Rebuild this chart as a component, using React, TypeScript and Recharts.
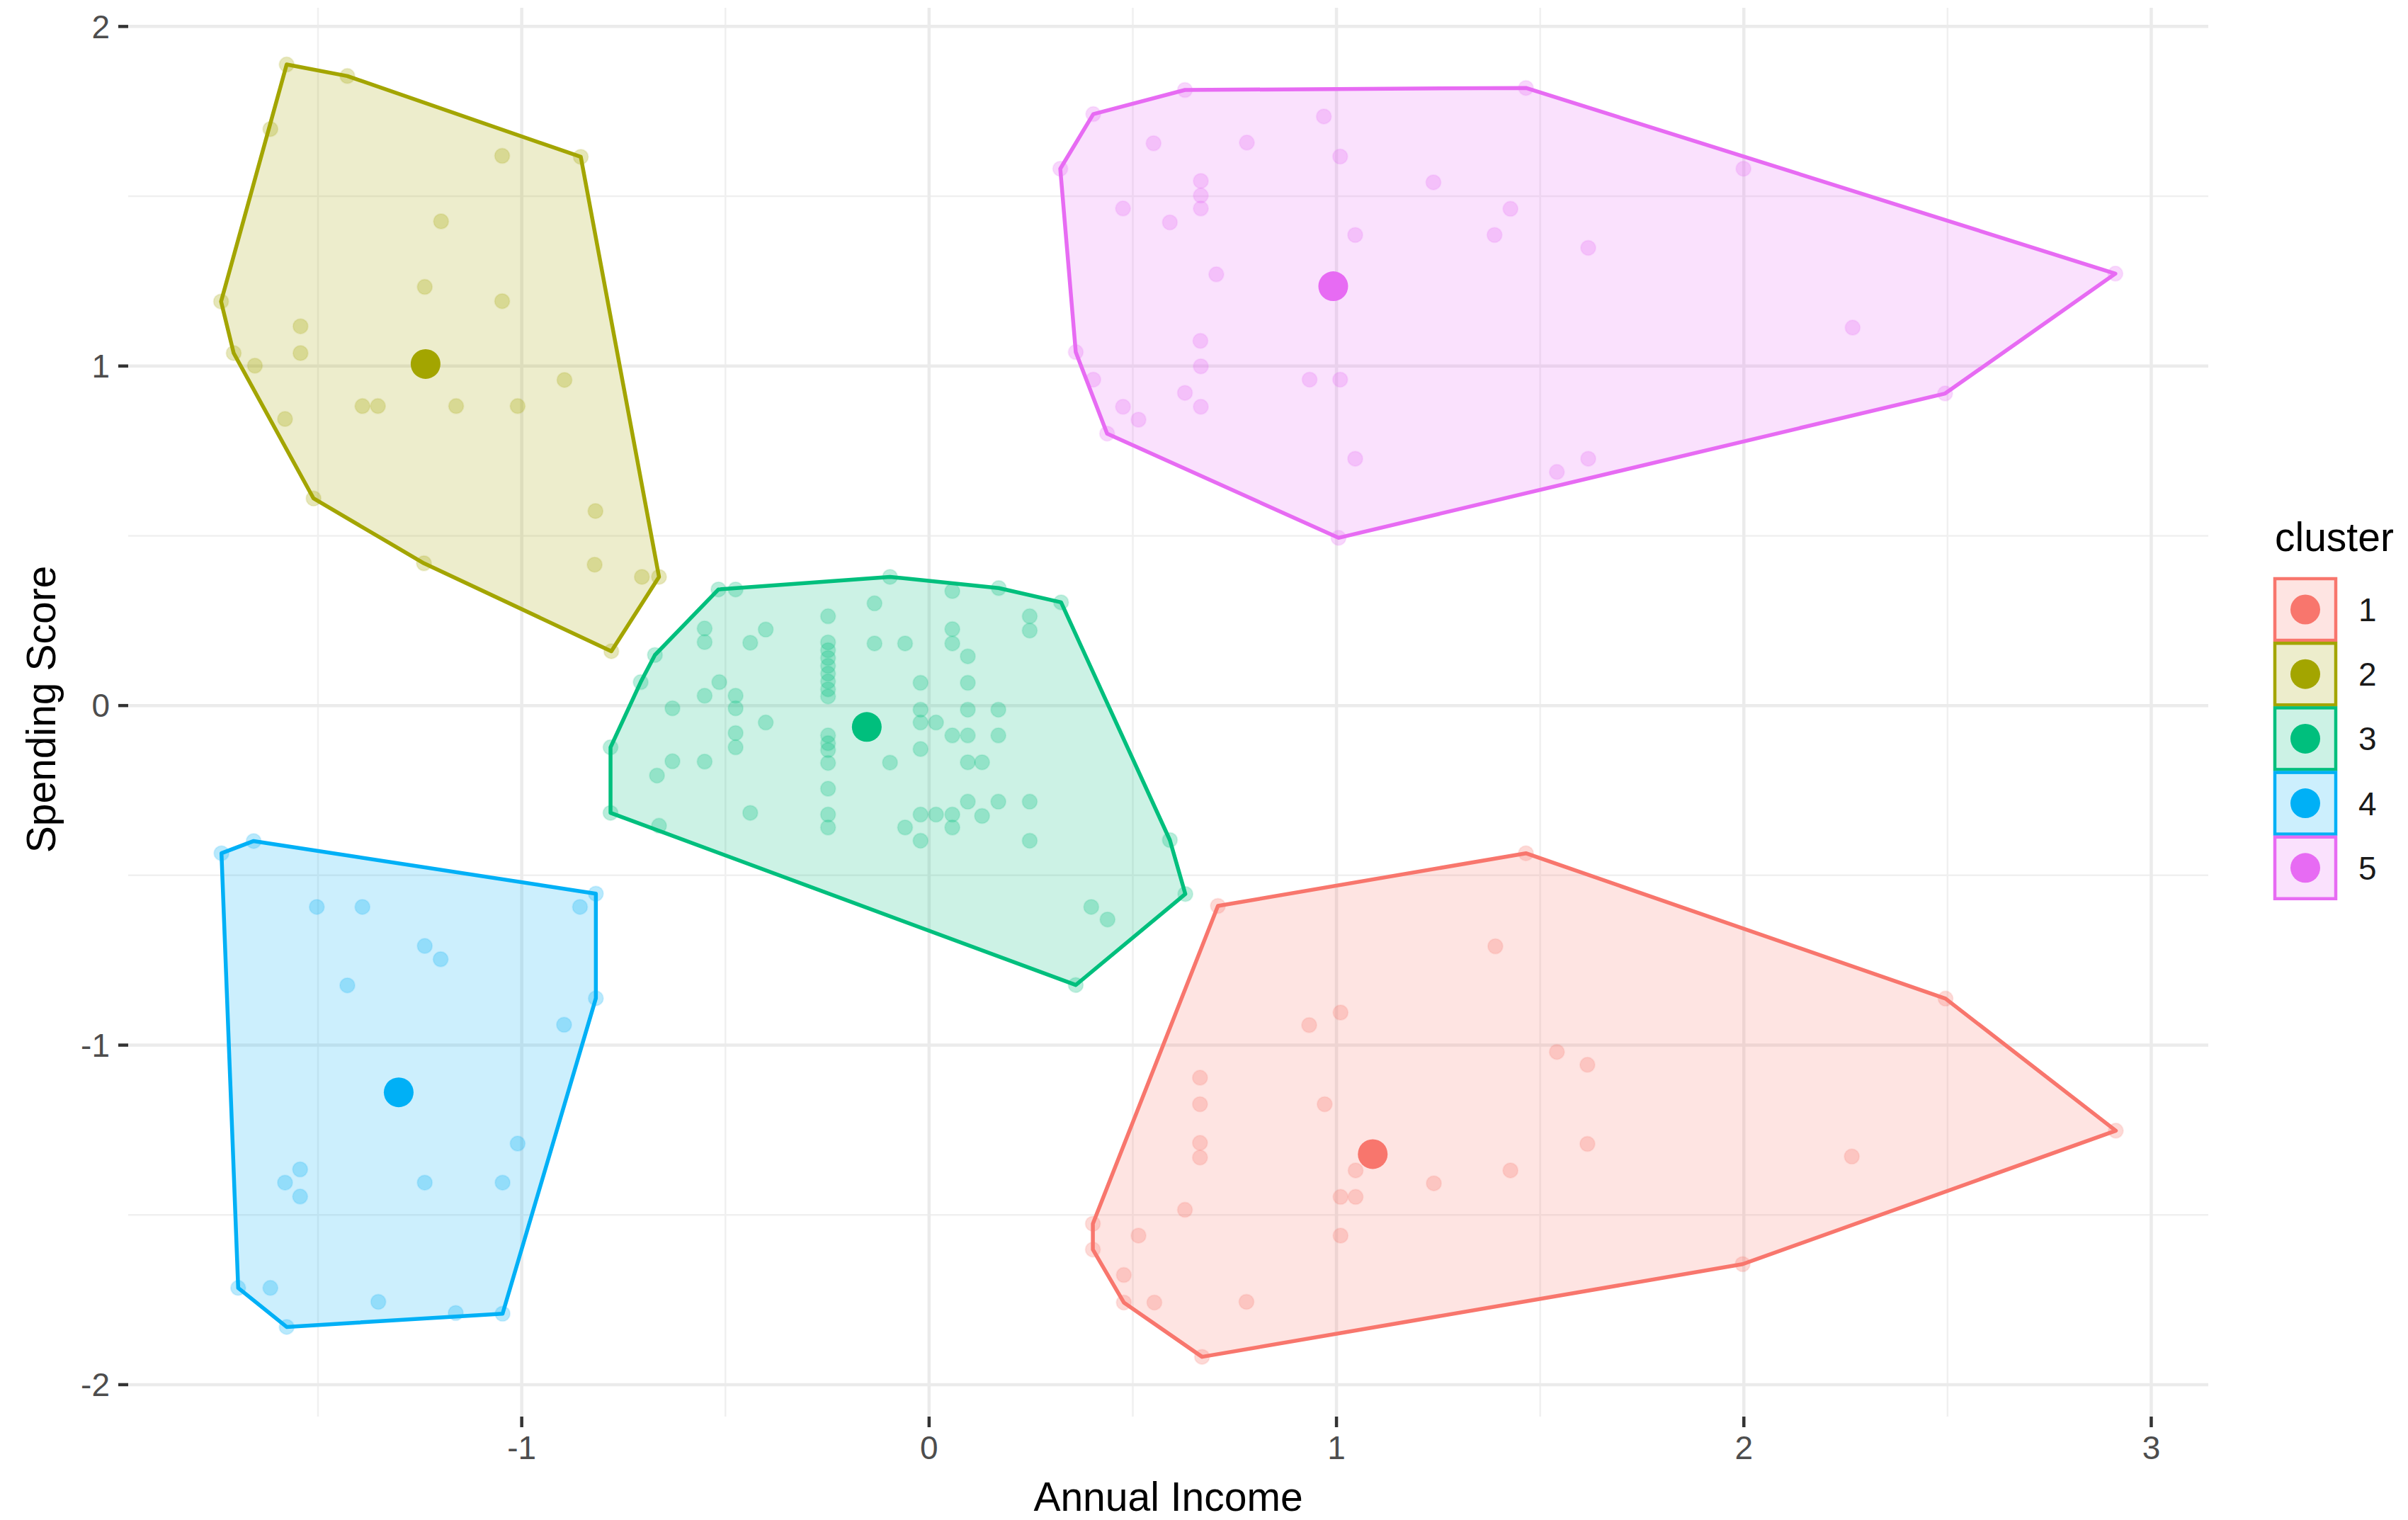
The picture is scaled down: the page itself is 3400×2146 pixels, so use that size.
import React from 'react';
import { ScatterChart, Scatter, XAxis, YAxis, CartesianGrid, Legend } from 'recharts';

const clusterLabels = ['1', '2', '3', '4', '5'];
const clusterColors = ['#F8766D', '#A3A500', '#00BF7D', '#00B0F6', '#E76BF3'];

const xMajorTicks = [-1, 0, 1, 2, 3];
const yMajorTicks = [-2, -1, 0, 1, 2];
const xMinorLines = [-1.5, -0.5, 0.5, 1.5, 2.5];
const yMinorLines = [-1.5, -0.5, 0.5, 1.5];
const xDomain: [number, number] = [-1.966, 3.14];
const yDomain: [number, number] = [-2.094, 2.055];

type P = [number, number];

const cluster1Points: P[] = [
  [1.465, -0.435], [0.709, -0.59], [1.39, -0.709], [1.01, -0.904], [0.933, -0.941], [2.495, -0.863],
  [1.541, -1.02], [1.616, -1.058], [0.665, -1.096], [0.665, -1.174], [0.971, -1.174], [0.665, -1.288],
  [0.665, -1.331], [1.616, -1.291], [2.265, -1.328], [2.913, -1.252], [1.047, -1.369], [1.427, -1.369],
  [1.239, -1.407], [1.01, -1.447], [1.047, -1.447], [0.628, -1.485], [0.402, -1.526], [0.514, -1.561],
  [1.01, -1.561], [0.402, -1.602], [0.478, -1.677], [0.553, -1.758], [0.779, -1.756], [0.478, -1.758],
  [1.997, -1.645], [0.67, -1.918],
];
const cluster2Points: P[] = [
  [-1.577, 1.888], [-1.428, 1.854], [-1.617, 1.698], [-1.048, 1.619], [-0.855, 1.616], [-1.198, 1.426],
  [-1.238, 1.233], [-1.048, 1.191], [-1.738, 1.19], [-1.543, 1.117], [-1.543, 1.038], [-1.707, 1.038],
  [-1.655, 1.001], [-0.895, 0.959], [-1.391, 0.882], [-1.353, 0.882], [-1.161, 0.882], [-1.01, 0.882],
  [-1.581, 0.844], [-1.511, 0.61], [-0.819, 0.573], [-1.24, 0.419], [-0.821, 0.415], [-0.705, 0.379],
  [-0.663, 0.379], [-0.78, 0.16],
];
const cluster3Points: P[] = [
  [-0.517, 0.342], [-0.475, 0.342], [-0.096, 0.379], [0.057, 0.337], [0.171, 0.346], [0.324, 0.304],
  [-0.134, 0.301], [-0.248, 0.263], [0.247, 0.263], [0.247, 0.221], [0.057, 0.225], [-0.401, 0.224],
  [-0.551, 0.227], [-0.551, 0.187], [-0.439, 0.185], [-0.134, 0.183], [-0.059, 0.183], [0.057, 0.183],
  [-0.248, 0.186], [-0.248, 0.163], [-0.248, 0.14], [-0.248, 0.117], [-0.248, 0.094], [-0.248, 0.071],
  [-0.248, 0.048], [-0.248, 0.027], [0.095, 0.145], [-0.673, 0.149], [-0.708, 0.069], [-0.515, 0.069],
  [-0.021, 0.067], [0.095, 0.067], [-0.551, 0.029], [-0.475, 0.029], [-0.63, -0.008], [-0.475, -0.008],
  [-0.021, -0.012], [0.095, -0.012], [0.17, -0.012], [-0.401, -0.05], [-0.021, -0.05], [0.017, -0.05],
  [-0.475, -0.081], [0.057, -0.088], [0.095, -0.088], [0.17, -0.088], [-0.248, -0.088], [-0.248, -0.111],
  [-0.248, -0.131], [-0.248, -0.169], [-0.475, -0.123], [-0.782, -0.123], [-0.021, -0.128], [-0.63, -0.164],
  [-0.551, -0.165], [-0.096, -0.168], [0.095, -0.167], [0.13, -0.167], [-0.668, -0.206], [-0.248, -0.245],
  [0.095, -0.283], [0.17, -0.283], [0.247, -0.283], [-0.782, -0.316], [-0.439, -0.316], [-0.248, -0.321],
  [-0.021, -0.321], [0.017, -0.321], [0.057, -0.321], [0.13, -0.325], [-0.663, -0.354], [-0.248, -0.359],
  [-0.059, -0.359], [0.057, -0.359], [-0.021, -0.398], [0.247, -0.398], [0.591, -0.396], [0.629, -0.555],
  [0.398, -0.593], [0.438, -0.63], [0.36, -0.823],
];
const cluster4Points: P[] = [
  [-1.658, -0.399], [-1.737, -0.435], [-0.818, -0.554], [-1.503, -0.593], [-1.391, -0.593], [-0.857, -0.593],
  [-1.238, -0.708], [-1.199, -0.747], [-1.428, -0.824], [-0.818, -0.862], [-0.896, -0.94], [-1.01, -1.29],
  [-1.544, -1.366], [-1.581, -1.405], [-1.544, -1.446], [-1.238, -1.405], [-1.047, -1.405], [-1.696, -1.715],
  [-1.617, -1.715], [-1.352, -1.756], [-1.162, -1.789], [-1.047, -1.791], [-1.577, -1.83],
];
const cluster5Points: P[] = [
  [0.628, 1.813], [1.465, 1.819], [0.403, 1.742], [0.969, 1.735], [0.551, 1.656], [0.78, 1.658],
  [1.009, 1.617], [0.322, 1.581], [1.999, 1.581], [0.667, 1.545], [1.238, 1.541], [0.667, 1.502],
  [0.476, 1.464], [0.667, 1.464], [1.427, 1.463], [0.591, 1.423], [1.046, 1.386], [1.388, 1.386],
  [1.618, 1.348], [2.912, 1.272], [0.705, 1.27], [2.267, 1.113], [0.666, 1.074], [0.36, 1.041],
  [0.667, 0.999], [0.403, 0.96], [0.934, 0.96], [1.009, 0.96], [0.628, 0.921], [2.494, 0.919],
  [0.476, 0.88], [0.667, 0.88], [0.514, 0.842], [0.437, 0.801], [1.046, 0.727], [1.618, 0.727],
  [1.541, 0.688], [1.005, 0.494],
];

const cluster1Hull: P[] = [
  [0.709, -0.59], [1.465, -0.435], [2.495, -0.863], [2.913, -1.252], [1.997, -1.645],
  [0.67, -1.918], [0.478, -1.758], [0.402, -1.602], [0.402, -1.526],
];
const cluster2Hull: P[] = [
  [-1.577, 1.888], [-1.428, 1.854], [-0.855, 1.616], [-0.663, 0.379], [-0.78, 0.16],
  [-1.24, 0.419], [-1.511, 0.61], [-1.707, 1.038], [-1.738, 1.19],
];
const cluster3Hull: P[] = [
  [-0.517, 0.342], [-0.096, 0.379], [0.171, 0.346], [0.324, 0.304], [0.591, -0.396], [0.629, -0.555],
  [0.36, -0.823], [-0.782, -0.316], [-0.782, -0.123], [-0.708, 0.069], [-0.673, 0.149],
];
const cluster4Hull: P[] = [
  [-1.737, -0.435], [-1.658, -0.399], [-0.818, -0.554], [-0.818, -0.862], [-1.047, -1.791],
  [-1.577, -1.83], [-1.696, -1.715],
];
const cluster5Hull: P[] = [
  [0.628, 1.813], [1.465, 1.819], [2.912, 1.272], [2.494, 0.919], [1.005, 0.494],
  [0.437, 0.801], [0.36, 1.041], [0.322, 1.581], [0.403, 1.742],
];

const centroidPoints: P[] = [
  [1.089, -1.321], [-1.236, 1.006], [-0.153, -0.063], [-1.302, -1.139], [0.992, 1.235],
];

const allPoints = [cluster1Points, cluster2Points, cluster3Points, cluster4Points, cluster5Points];
const allHulls = [cluster1Hull, cluster2Hull, cluster3Hull, cluster4Hull, cluster5Hull];

const toRows = (pts: P[]) => pts.map(([x, y]) => ({ x, y }));
const closeRing = (pts: P[]) => toRows([...pts, pts[0]]);

const FONT = '"Liberation Sans", Arial, Helvetica, sans-serif';
const W = 3400;
const H = 2146;

const scaleOf = (axis: any) => {
  const s = axis && axis.scale;
  return (v: number) => (typeof s === 'function' ? s(v) : s && s.map ? s.map(v) : 0);
};

const smallDot = (color: string) => (props: any) => (
  <circle cx={props.cx} cy={props.cy} r={10.5} fill={color} fillOpacity={0.28} stroke={color} strokeOpacity={0.12} strokeWidth={2} />
);
const bigDot = (color: string) => (props: any) => (
  <circle cx={props.cx} cy={props.cy} r={21} fill={color} />
);
const noDot = () => <g />;
const hullLine = (color: string) => (props: any) => {
  const pts = (props.points || []) as { x: number; y: number }[];
  if (!pts.length) return <g />;
  const d = pts.map((p, i) => `${i === 0 ? 'M' : 'L'}${p.x},${p.y}`).join(' ') + ' Z';
  return (
    <path d={d} fill={color} fillOpacity={0.2} stroke={color} strokeWidth={5.5} strokeLinejoin="round" />
  );
};

const renderXTitle = (props: any) => {
  const vb = props.viewBox || { x: 181, y: 2000, width: 2937, height: 146 };
  return (
    <text x={vb.x + vb.width / 2} y={vb.y + 133} textAnchor="middle" fontSize={57} fontFamily={FONT} fill="#000">
      Annual Income
    </text>
  );
};
const renderYTitle = (props: any) => {
  const vb = props.viewBox || { x: 0, y: 11, width: 181, height: 1989 };
  const cx = 78;
  const cy = vb.y + vb.height / 2 - 4;
  return (
    <text x={cx} y={cy} transform={`rotate(-90, ${cx}, ${cy})`} textAnchor="middle" fontSize={57} fontFamily={FONT} fill="#000">
      Spending Score
    </text>
  );
};

const renderLegend = () => (
  <svg width={200} height={600} style={{ overflow: 'visible' }}>
    <text x={12} y={58} fontSize={57} fontFamily={FONT} fill="#000">cluster</text>
    {clusterLabels.map((lab, i) => {
      const top = 97 + i * 91.2;
      return (
        <g key={lab}>
          <rect x={12} y={top} width={86} height={87} fill={clusterColors[i]} fillOpacity={0.2} stroke={clusterColors[i]} strokeWidth={4.5} />
          <circle cx={55} cy={top + 43.5} r={21} fill={clusterColors[i]} />
          <text x={130} y={top + 43.5 + 16.5} fontSize={46} fontFamily={FONT} fill="#1a1a1a">{lab}</text>
        </g>
      );
    })}
  </svg>
);

export default function App() {
  return (
    <div style={{ position: 'absolute', left: 0, top: 0, width: W, height: H, background: '#fff' }}>
      <ScatterChart width={W} height={H} margin={{ top: 11, right: 282, bottom: 0, left: 0 }}>
        <CartesianGrid
          stroke="#F0F0F0"
          strokeWidth={2.5}
          horizontalCoordinatesGenerator={(p: any) => yMinorLines.map(scaleOf(p.yAxis))}
          verticalCoordinatesGenerator={(p: any) => xMinorLines.map(scaleOf(p.xAxis))}
        />
        <CartesianGrid
          stroke="#EBEBEB"
          strokeWidth={4.5}
          horizontalCoordinatesGenerator={(p: any) => yMajorTicks.map(scaleOf(p.yAxis))}
          verticalCoordinatesGenerator={(p: any) => xMajorTicks.map(scaleOf(p.xAxis))}
        />
        <XAxis
          type="number"
          dataKey="x"
          domain={xDomain}
          ticks={xMajorTicks}
          allowDataOverflow
          height={146}
          axisLine={false}
          tickSize={15}
          tickMargin={12}
          tickLine={{ stroke: '#333333', strokeWidth: 4.5 }}
          tick={{ fontSize: 46, fill: '#4D4D4D', fontFamily: FONT }}
          interval={0}
          label={renderXTitle}
        />
        <YAxis
          type="number"
          dataKey="y"
          domain={yDomain}
          ticks={yMajorTicks}
          allowDataOverflow
          width={181}
          axisLine={false}
          tickSize={14}
          tickMargin={12}
          tickLine={{ stroke: '#333333', strokeWidth: 4.5 }}
          tick={{ fontSize: 46, fill: '#4D4D4D', fontFamily: FONT }}
          interval={0}
          label={renderYTitle}
        />
        {allPoints.map((pts, i) => (
          <Scatter
            key={`pts-${i}`}
            name={`points ${clusterLabels[i]}`}
            data={toRows(pts)}
            shape={smallDot(clusterColors[i])}
            isAnimationActive={false}
          />
        ))}
        {allHulls.map((pts, i) => (
          <Scatter
            key={`hull-${i}`}
            name={`hull ${clusterLabels[i]}`}
            data={closeRing(pts)}
            shape={noDot}
            line={hullLine(clusterColors[i])}
            lineType="joint"
            isAnimationActive={false}
          />
        ))}
        {centroidPoints.map((c, i) => (
          <Scatter
            key={`cen-${i}`}
            name={clusterLabels[i]}
            data={toRows([c])}
            shape={bigDot(clusterColors[i])}
            isAnimationActive={false}
          />
        ))}
        <Legend
          layout="vertical"
          align="center"
          verticalAlign="middle"
          content={renderLegend}
          wrapperStyle={{ left: 3200, top: 720, width: 200, height: 600 }}
        />
      </ScatterChart>
    </div>
  );
}
